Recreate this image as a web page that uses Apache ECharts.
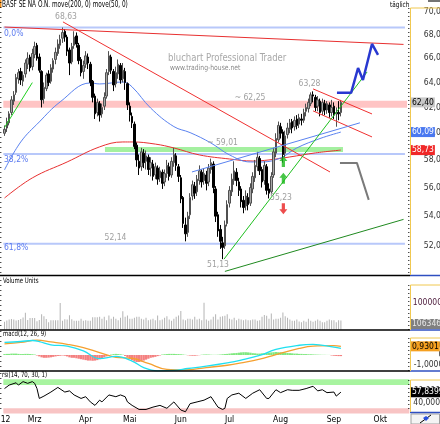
<!DOCTYPE html>
<html><head><meta charset="utf-8">
<script src="https://cdn.jsdelivr.net/npm/echarts@6/dist/echarts.min.js"></script>
<style>html,body{margin:0;padding:0;background:#fff}#c{width:440px;height:424px}</style>
</head><body><div id="c"></div>
<script>
// ---------------- DATA ----------------
const monthNames = ["Jan","Feb","Mrz","Apr","Mai","Jun","Jul","Aug","Sep","Okt","Nov","Dez"];
const holidays = ["2012-04-06","2012-04-09","2012-05-01"];
const nDays = 175;

const opens = [60.0,60.4,60.8,61.6,62.5,63.2,64.3,64.9,64.1,64.7,
65.5,66.1,65.3,66.3,67.1,66.1,64.9,62.7,63.5,64.7,
64.1,65.1,65.9,66.4,67.1,67.7,68.3,67.8,66.7,65.7,
67.1,67.9,67.1,65.9,64.9,65.5,66.1,65.5,64.1,62.9,
61.6,62.3,61.5,62.1,62.9,64.9,66.1,64.9,63.9,64.7,
65.4,64.3,64.9,63.9,62.1,61.3,60.7,59.1,57.9,57.5,
58.5,57.9,58.2,57.4,57.7,56.9,57.4,56.7,57.1,56.4,
57.0,57.5,56.9,57.8,58.3,57.5,56.7,55.3,53.4,52.9,
54.1,55.4,56.1,55.7,56.5,57.1,56.5,56.9,56.4,57.3,
57.7,55.9,54.1,53.1,52.2,52.0,53.5,54.9,55.7,56.5,
57.1,56.4,55.9,55.1,54.7,55.3,54.9,55.9,56.7,57.5,
58.1,57.3,56.5,57.5,55.9,55.7,56.9,58.5,59.5,60.5,
60.1,58.5,59.9,60.3,60.9,60.5,61.1,60.7,61.1,61.0,
61.7,61.9,62.3,63.0,62.8,62.1,62.5,61.7,62.3,61.8,
62.2,61.6,62.1,61.5,61.6,61.6];
const closes = [60.3,60.9,61.5,62.6,63.0,64.4,64.8,64.2,64.6,65.6,
66.0,65.2,66.4,67.0,66.0,65.0,62.6,63.6,64.6,64.0,
65.2,65.8,66.5,67.2,67.6,68.2,67.8,66.6,65.6,67.0,
67.8,67.2,65.8,64.8,65.4,66.2,65.6,64.0,62.8,61.5,
62.4,61.4,62.0,62.8,64.8,66.2,65.0,63.8,64.8,65.5,
64.2,65.0,64.0,62.2,61.4,60.8,59.0,58.0,57.4,58.6,
57.8,58.3,57.3,57.8,56.8,57.5,56.6,57.2,56.3,57.0,
57.6,56.8,57.9,58.4,57.6,56.8,55.2,53.5,52.8,54.0,
55.3,56.2,55.6,56.6,57.2,56.4,57.0,56.3,57.4,57.8,
56.0,54.0,53.0,52.3,51.9,53.4,54.8,55.8,56.6,57.2,
56.5,55.8,55.0,54.6,55.4,54.8,56.0,56.8,57.6,58.2,
57.2,56.4,57.6,55.8,55.6,56.8,58.6,59.6,60.6,60.0,
58.4,59.8,60.4,60.8,60.4,61.0,60.6,61.2,61.0,61.6,
62.0,62.4,63.0,62.9,62.0,62.6,61.6,62.4,61.8,62.3,
61.6,62.0,61.4,61.6,61.5,62.4];
const lows = [59.8,60.1,60.6,61.4,62.2,63.0,63.9,63.8,63.7,64.4,
65.1,64.9,65.0,66.0,65.8,64.8,62.0,62.3,63.3,63.7,
63.9,64.8,65.5,66.2,66.8,67.3,67.4,66.2,64.6,65.5,
66.8,66.9,65.5,64.5,64.3,65.2,65.1,63.7,62.4,61.1,
61.3,60.9,61.2,61.8,62.7,64.6,64.7,63.3,63.6,64.3,
63.9,64.0,63.4,61.8,60.9,60.4,58.8,57.5,56.9,57.2,
57.4,57.3,56.9,56.8,56.5,56.6,56.2,56.4,55.9,56.1,
56.7,56.5,56.7,57.5,57.2,56.4,54.9,53.2,52.3,52.6,
53.8,55.1,55.2,55.4,56.2,56.0,56.2,55.8,56.1,57.0,
55.6,53.6,52.6,51.8,51.13,51.8,53.3,54.6,55.4,56.2,
56.1,55.4,54.6,54.2,54.4,54.4,54.7,55.6,56.4,57.2,
56.9,56.0,56.2,55.5,55.23,55.5,56.7,58.2,59.3,59.6,
57.8,58.2,59.6,60.0,60.0,60.2,60.3,60.4,60.6,60.8,
61.3,61.6,62.1,62.4,61.7,61.7,61.3,61.4,61.4,61.5,
61.2,61.3,61.1,60.5,61.0,61.3];
const highs = [60.6,61.2,61.7,62.9,63.3,64.7,65.1,65.2,64.9,65.9,
66.5,66.3,66.8,67.4,67.3,66.4,65.0,64.0,64.8,65.0,
65.5,66.0,66.9,67.6,68.0,68.63,68.5,68.0,66.9,67.3,
68.3,68.2,67.3,66.1,65.8,66.6,66.4,65.7,64.2,63.1,
62.7,62.5,62.3,63.2,65.1,66.6,66.3,65.1,65.3,65.9,
65.6,65.6,65.2,64.0,62.4,61.6,60.9,59.3,58.4,58.9,
58.8,58.7,58.4,58.2,58.0,57.8,57.6,57.5,57.3,57.3,
58.0,57.8,58.2,58.9,58.5,57.7,56.9,55.4,53.9,54.3,
55.6,56.5,56.4,56.9,57.6,57.3,57.4,57.2,57.7,58.1,
57.9,56.1,54.3,53.4,52.6,53.7,55.1,56.1,57.0,57.9,
57.4,56.7,56.1,55.4,55.8,55.6,56.3,57.1,58.0,58.6,
58.3,57.5,57.9,57.7,56.3,57.1,58.9,60.0,60.9,60.8,
60.3,60.2,60.8,61.1,61.1,61.3,61.4,61.5,61.5,61.9,
62.3,62.7,63.2,63.28,63.0,62.9,62.7,62.7,62.6,62.5,
62.4,62.6,62.4,62.0,62.5,62.6];
// volume in millions of units
const volumesM = [2.9,3.4,3.8,4.0,3.8,3.4,3.6,4.0,4.5,6.3,
3.6,4.3,4.3,4.3,3.1,3.6,5.8,5.0,4.0,2.7,
3.5,3.5,3.5,3.5,10.0,3.3,3.9,3.8,5.4,3.9,
3.3,3.3,3.3,4.1,3.3,3.5,3.3,3.3,4.6,4.6,
4.6,4.8,4.1,4.8,3.5,5.3,4.1,4.8,4.1,3.5,
4.4,6.9,4.8,5.3,4.1,4.1,4.4,4.8,4.8,4.1,
3.8,4.4,3.5,3.8,4.1,3.5,5.3,3.5,3.8,4.4,
5.0,3.8,3.3,4.1,4.8,5.3,7.0,3.8,3.5,4.1,
4.1,3.8,4.8,3.8,4.1,3.5,10.1,3.8,3.3,3.8,
4.8,5.8,3.8,4.8,5.0,5.2,5.8,4.1,3.8,4.4,
3.5,4.1,3.8,3.5,3.8,3.5,3.5,3.8,3.8,3.3,
3.5,4.8,5.5,5.2,4.1,6.0,3.8,4.1,4.1,4.4,
6.4,5.0,4.4,3.8,3.3,3.3,3.8,3.0,2.7,3.3,
2.9,4.1,3.3,2.9,3.3,3.8,3.3,2.7,2.7,3.3,
3.8,3.5,3.5,2.7,3.5,3.4];
const lastVolumeLabel = "1063466";

// moving averages: [day index] / price
const ma200Idx = [0,12,27,41,51,55,65,73,84,97,107,114,123,134,145];
const ma200Val = [55.26,56.69,57.85,58.97,59.34,59.34,59.18,58.89,58.37,58.07,57.92,58.00,58.22,58.52,58.73];
const ma50Idx = [0,7,15,24,37,41,51,55,63,73,80,89,97,106,111,119,126,136,145];
const ma50Val = [57.27,59.34,60.87,62.44,63.96,63.88,64.04,63.64,61.95,60.51,60.05,59.26,58.37,57.85,57.85,58.15,58.89,59.60,60.09];

// MACD
const macdIdx = [0,7,12,15,20,27,34,41,48,55,60,66,73,79,87,96,102,110,117,127,133,142,145];
const macdVal = [1.35,1.45,1.56,1.45,1.1,0.95,0.45,-0.4,-0.15,-0.65,-1.35,-1.7,-1.65,-1.45,-1.2,-0.85,-0.55,-0.05,0.6,1.05,1.15,0.85,0.72];
const signalIdx = [0,7,14,20,27,34,41,48,55,62,70,78,87,96,102,110,117,127,133,142,145];
const signalVal = [1.2,1.35,1.6,1.4,1.15,0.8,0.25,-0.25,-0.35,-0.9,-1.55,-1.6,-1.35,-1.1,-0.85,-0.45,0.05,0.7,0.95,1.0,0.93];
const histVal = [0.1,0.12,0.12,0.15,0.15,0.15,0.12,0.1,0.1,0.12,0.12,0.1,0.08,0.05,
-0.05,-0.15,-0.25,-0.3,-0.3,-0.28,-0.25,-0.2,-0.15,-0.1,-0.08,-0.05,-0.08,-0.15,-0.25,-0.3,-0.3,-0.35,-0.4,-0.45,-0.5,-0.55,-0.6,-0.6,-0.62,-0.6,-0.55,-0.45,-0.35,-0.25,-0.15,-0.05,
0.05,0.1,0.12,0.1,0.08,0.03,
-0.1,-0.25,-0.4,-0.55,-0.7,-0.75,-0.75,-0.7,-0.6,-0.5,-0.4,-0.3,-0.25,-0.2,-0.12,-0.05,
0.05,0.08,0.1,0.12,0.12,0.12,0.1,0.1,0.08,0.05,0.02,
-0.03,-0.06,-0.08,-0.08,-0.05,-0.02,
0.03,0.05,0.06,0.05,0.03,0.02,0.02,0.03,
0.05,0.08,0.1,0.12,0.15,0.18,0.2,0.22,0.25,0.28,0.3,0.3,0.28,0.25,0.2,0.18,0.15,0.15,0.18,0.2,0.22,0.25,0.28,0.3,0.32,0.3,0.3,0.28,0.25,0.22,0.2,0.18,0.15,0.15,0.12,0.12,0.1,0.1,0.08,0.08,0.06,0.05,0.04,0.03,0.02,0.02,0.01,0.01,
-0.05,-0.08,-0.1,-0.12,-0.12];
const macdLastLabel = "0,9301";

// RSI
const rsiIdx = [0,2,5,6,8,10,12,13,14,15,17,20,23,26,28,30,33,35,37,39,41,42,45,48,50,52,53,55,58,61,64,67,70,73,76,78,80,83,86,89,92,94,95,96,98,101,104,107,110,113,114,117,119,122,124,127,130,133,135,137,139,142,143,145];
const rsiVal = [64,70,74,70,76,73,76,73,64,47,51,58,66,58,60,53,47,50,41,35,44,41,53,50,53,50,41,35,28,28,32,35,30,41,27,24,38,41,44,50,32,28,30,47,53,56,47,56,62,47,47,62,57,62,61,61,64,68,60,62,57,58,51,57.84];
const rsiLastLabel = "57,8399";

// drawn lines: [day index, price]
const tlTopRed = [[0,68.67],[172,67.17]];
const tlDownRed = [[25.2,69.12],[140.3,57.12]];
const tlChannelUp = [[133,63.48],[158.4,61.49]];
const tlChannelLow = [[133,61.73],[158.4,59.72]];
const tlBlue = [[80.8,57.12],[153.2,60.8]];
const tlGreenShort = [[0,60.44],[12,63.99]];
const tlGreenLow = [[94.6,51.13],[156.3,64.86]];
const tlGreenLong = [[95,50.34],[172,53.78]];
const projBlue = [[143.3,63.16],[149.4,63.16],[152.4,65.19],[154.5,64.2],[158.4,67.21],[161,66.28]];
const projGrey = [[144.6,57.78],[151.9,57.78],[157,55.13]];
const fibLevels = [68.63,58.44,52.14];
const fibEnd = 172.6;
const resistanceBand = [61.98,62.52];
const supportBand = [58.59,58.97];
const supportBandDays = [43.3,145.9];
const arrowsUp = [[120.2,57.88],[120.2,56.67]];
const arrowsDown = [[120.2,54.51]];
const priceTicks = [52,54,56,58,60,62,64,66,68,70];
const lastClose = 62.40, lastMa50 = 60.09, lastMa200 = 58.73;

// ---------------- BUILD ----------------
const FONT = "'Liberation Sans Narrow','DejaVu Sans Condensed','Liberation Sans',sans-serif";
const L = Math.log;
const categories = [];
{
  const d = new Date(Date.UTC(2012,1,13));
  while (categories.length < nDays) {
    const wd = d.getUTCDay();
    const s = d.toISOString().slice(0,10);
    if (wd !== 0 && wd !== 6 && holidays.indexOf(s) < 0) categories.push(s);
    d.setUTCDate(d.getUTCDate()+1);
  }
}
const monthOf = s => +s.slice(5,7);
const isMonthStart = i => i === 0 || monthOf(categories[i]) !== monthOf(categories[i-1]);

const candleData = opens.map((o,i)=>[L(o), L(closes[i]), L(lows[i]), L(highs[i])]);
const lnPts = pts => pts.map(p=>[p[0], L(p[1])]);
const pairs = (a,b) => a.map((x,k)=>[x,b[k]]);

const GL = 3.34, GW = 406;
const grids = [
  {left:GL, width:GW, top:2, height:273},
  {left:GL, width:GW, top:280, height:49.5},
  {left:GL, width:GW, top:331, height:40},
  {left:GL, width:GW, top:379.3, height:34.2}
].map(g=>Object.assign(g,{containLabel:false, outerBoundsMode:'none'}));

const catAxis = (gi, show) => ({
  type:'category', gridIndex:gi, data:categories, boundaryGap:true,
  show: show,
  axisLine:{show:false}, axisTick:{show:false}, splitLine:{show:false},
  axisLabel:{show:show, interval:(idx)=>isMonthStart(idx), margin:2,
    formatter:(v,idx)=> idx===0 ? "'12" : monthNames[monthOf(v)-1],
    color:'#000', fontSize:8.5, fontFamily:FONT}
});

const lineSeries = (pts, color, width, extra) => Object.assign({
  type:'line', xAxisIndex:4, yAxisIndex:0, data:lnPts(pts), symbol:'none',
  silent:true, animation:false, lineStyle:{color:color, width:width}, z:5
}, extra||{});

const series = [];
// bands
series.push({type:'line', xAxisIndex:4, yAxisIndex:0, data:[], silent:true, z:1,
  markArea:{silent:true, itemStyle:{color:'#ffc4c4'}, data:[
    [{coord:[-0.5, L(resistanceBand[0])]},{coord:[173.5, L(resistanceBand[1])]}]
  ]}});
series.push({type:'line', xAxisIndex:4, yAxisIndex:0, data:[], silent:true, z:1,
  markArea:{silent:true, itemStyle:{color:'#a4f0a0'}, data:[
    [{coord:[supportBandDays[0], L(supportBand[0])]},{coord:[supportBandDays[1], L(supportBand[1])]}]
  ]}});
// fib lines
fibLevels.forEach(f=>series.push(lineSeries([[-0.5,f],[fibEnd,f]], '#b8c8fa', 2, {z:2})));
// moving averages
series.push(lineSeries(pairs(ma200Idx, ma200Val), '#e83030', 1, {smooth:0.4, z:3}));
series.push(lineSeries(pairs(ma50Idx, ma50Val), '#5a82f0', 1, {smooth:0.4, z:3}));
// candles
series.push({type:'candlestick', xAxisIndex:0, yAxisIndex:0, data:candleData, barWidth:2,
  silent:true, animation:false, z:4,
  itemStyle:{color:'#a8a8a8', color0:'#000', borderColor:'#505050', borderColor0:'#000', borderWidth:1}});
// trend lines
series.push(lineSeries(tlTopRed, '#e83030', 1));
series.push(lineSeries(tlDownRed, '#f03030', 1));
series.push(lineSeries(tlChannelUp, '#f03030', 1));
series.push(lineSeries(tlChannelLow, '#f03030', 1));
series.push(lineSeries(tlBlue, '#5a82f0', 1));
series.push(lineSeries(tlGreenShort, '#20d020', 1));
series.push(lineSeries(tlGreenLow, '#20c020', 1));
series.push(lineSeries(tlGreenLong, '#208a20', 1));
series.push(lineSeries(projBlue, '#2838d0', 2.5, {z:6}));
series.push(lineSeries(projGrey, '#7a7a7a', 2, {z:6}));
// arrows
series.push({type:'scatter', xAxisIndex:4, yAxisIndex:0, data:lnPts(arrowsUp), silent:true, z:7,
  symbol:'path://M5,0 L10,5 L7,5 L7,11 L3,11 L3,5 L0,5 Z', symbolSize:[8,11], itemStyle:{color:'#18b818'}});
series.push({type:'scatter', xAxisIndex:4, yAxisIndex:0, data:lnPts(arrowsDown), silent:true, z:7,
  symbol:'path://M3,0 L7,0 L7,6 L10,6 L5,11 L0,6 L3,6 Z', symbolSize:[8,11], itemStyle:{color:'#e82020'}});
// volume
series.push({type:'bar', xAxisIndex:1, yAxisIndex:1, data:volumesM, barWidth:1, silent:true,
  itemStyle:{color:'#b4b4b4'}});
// macd
series.push({type:'bar', xAxisIndex:2, yAxisIndex:2, data:histVal, barWidth:'100%', silent:true,
  itemStyle:{color:p=> p.value>=0 ? '#80e880' : '#f48080'}});
series.push({type:'line', xAxisIndex:2, yAxisIndex:2, data:pairs(signalIdx, signalVal), symbol:'none', smooth:0.4,
  silent:true, lineStyle:{color:'#f5a030', width:1.3}, z:3});
series.push({type:'line', xAxisIndex:2, yAxisIndex:2, data:pairs(macdIdx, macdVal), symbol:'none', smooth:0.4,
  silent:true, lineStyle:{color:'#20e0f0', width:1.3}, z:4});
// rsi
series.push({type:'line', xAxisIndex:3, yAxisIndex:3, data:pairs(rsiIdx, rsiVal), symbol:'none',
  silent:true, lineStyle:{color:'#000', width:1}, z:4,
  markArea:{silent:true, data:[
    [{yAxis:70, itemStyle:{color:'#a8f4a0'}},{yAxis:80}],
    [{yAxis:21, itemStyle:{color:'#f8c4c4'}},{yAxis:30}]
  ]}});

const yLabel = {color:'#333', fontSize:8.5, fontFamily:FONT};
const option = {
  animation:false,
  backgroundColor:'#fff',
  grid: grids,
  xAxis: [catAxis(0,false), catAxis(1,false), catAxis(2,false), catAxis(3,true),
    {type:'value', gridIndex:0, min:-0.5, max:174.5, show:false}],
  yAxis: [
    {type:'value', gridIndex:0, position:'right', min:L(50.11), max:L(70.89), scale:true,
      axisLine:{show:false}, axisTick:{show:false}, splitLine:{show:false},
      axisLabel:Object.assign({customValues:priceTicks.map(L), margin:14.5,
        formatter:v=>Math.exp(v).toFixed(2).replace('.',',')}, yLabel)},
    {type:'value', gridIndex:1, position:'right', min:0, max:18.7,
      axisLine:{show:false}, axisTick:{show:false}, splitLine:{show:false},
      axisLabel:Object.assign({customValues:[10], margin:3.5, color:'#502040',
        formatter:v=>(v*1e6).toFixed(0)}, {fontSize:8.5, fontFamily:FONT})},
    {type:'value', gridIndex:2, position:'right', min:-1.72, max:2.58,
      axisLine:{show:false}, axisTick:{show:false}, splitLine:{show:false},
      axisLabel:Object.assign({customValues:[-1,0,1], margin:34, align:'right',
        formatter:v=> v===0 ? '0' : v.toFixed(4).replace('.',',')}, yLabel)},
    {type:'value', gridIndex:3, position:'right', min:21, max:80,
      axisLine:{show:false}, axisTick:{show:false}, splitLine:{show:false},
      axisLabel:Object.assign({customValues:[40,60], margin:4,
        formatter:v=>v.toFixed(4).replace('.',',')}, yLabel)}
  ],
  series: series
};

const chart = echarts.init(document.getElementById('c'), null, {renderer:'canvas', width:440, height:424});
chart.setOption(option);

// ---------------- overlay texts & frame ----------------
const T = (text, x, y, size, color, extra, sx) => ({type:'text', z:100, silent:true,
  x:x, y:y, scaleX: sx||1, originX:0, originY:0,
  style:Object.assign({text:text, x:0, y:0, font:size+'px '+FONT, fill:color,
    textAlign:'left', align:'left', textVerticalAlign:'middle', verticalAlign:'middle'}, extra||{})});
const Ln = (x1,y1,x2,y2,color,w,dash) => ({type:'line', z:90, silent:true,
  shape:{x1:x1,y1:y1,x2:x2,y2:y2}, style:{stroke:color, lineWidth:w, lineDash:dash||null}});
const Box = (text, y, bg, fg) => T(text, 411, y, 8.5, fg, {backgroundColor:bg, padding:[1,1,0,1]});
const CT = {textAlign:'center', align:'center'};

const py = (axis, v) => chart.convertToPixel({yAxisIndex:axis}, v);

const g = [];
// panel frames
[275.5,330,371].forEach(y=>g.push(Ln(0,y,410,y,'#000',1.5)));
[275.5,330,371,412.5].forEach(y=>g.push(Ln(410,y,440,y,'#2f4fc0',1.5)));
[[8,275],[285,330],[338,371],[380,412]].forEach(([a,b])=>{
  g.push(Ln(410.5,a,410.5,b,'#f0c850',1));
  g.push(Ln(410.5,a,440,a,'#f0c850',1));
  g.push(Ln(408.8,a,408.8,b,'#000',1,[1,3]));
});
[[2,275],[280,330],[331,371],[373,413]].forEach(([a,b])=>g.push(Ln(0.8,a,0.8,b,'#000',1,[1,4])));
g.push({type:'rect', z:80, shape:{x:0,y:0,width:1.5,height:8}, style:{fill:'#f09020'}});
g.push(Ln(428,1,440,1,'#444',1.5));
g.push({type:'rect', z:80, shape:{x:411,y:414,width:28.5,height:10}, style:{fill:'#f4f4f4', stroke:'#a0a0a0', lineWidth:1}});
g.push(Ln(420,423,431,415,'#000',1));
g.push({type:'polygon', z:95, shape:{points:[[426,416],[429,418],[426,421],[423,418]]}, style:{fill:'#2850e0'}});

// texts
g.push(T('BASF SE NA O.N. move(200, 0) move(50, 0)', 2, 5, 8, '#000', null, 0.8));
g.push(T('täglich', 390, 5, 7.5, '#000', null, 0.85));
g.push(T('bluchart Professional Trader', 168, 58, 10.5, '#a8a8a8', null, 0.9));
g.push(T('www.trading-house.net', 170, 68, 7.5, '#8a8a8a', null, 0.9));
g.push(T('68,63', 66, 17, 8.5, '#a0a0a0', CT));
g.push(T('63,28', 309.5, 83.5, 8.5, '#a0a0a0', CT));
g.push(T('~ 62,25', 250, 97.5, 8.5, '#a0a0a0', CT));
g.push(T('~ 59,01', 222.5, 142.5, 8.5, '#a0a0a0', CT));
g.push(T('55,23', 281, 197.5, 8.5, '#a0a0a0', CT));
g.push(T('52,14', 115.5, 237.5, 8.5, '#a0a0a0', CT));
g.push(T('51,13', 218, 265, 8.5, '#a0a0a0', CT));
g.push(T('0,0%', 4, 33.5, 8.5, '#5a7af0'));
g.push(T('38,2%', 4, 159.5, 8.5, '#5a7af0'));
g.push(T('61,8%', 4, 247.5, 8.5, '#5a7af0'));
g.push(T('Volume Units', 3, 281, 7.5, '#000', null, 0.8));
g.push(T('macd(12, 26, 9)', 3, 334.5, 7.5, '#000', null, 0.8));
g.push(T('rsi(14, 70, 30, 1)', 2, 375.5, 7.5, '#000', null, 0.8));
// value boxes on the axes
g.push(Box(lastClose.toFixed(2).replace('.',','), py(0, L(lastClose)), '#c8c8c8', '#000'));
g.push(Box(lastMa50.toFixed(2).replace('.',','), py(0, L(lastMa50)), '#4a78f0', '#fff'));
g.push(Box(lastMa200.toFixed(2).replace('.',','), py(0, L(lastMa200)), '#f02828', '#fff'));
g.push(Box(lastVolumeLabel, 324, '#808080', '#e8e8e8'));
g.push(Box(macdLastLabel, py(2, 0.9301), '#f5a020', '#000'));
g.push(Box(rsiLastLabel, py(3, 57.8399), '#000', '#fff'));

chart.setOption({graphic:{elements:g}});
</script></body></html>
